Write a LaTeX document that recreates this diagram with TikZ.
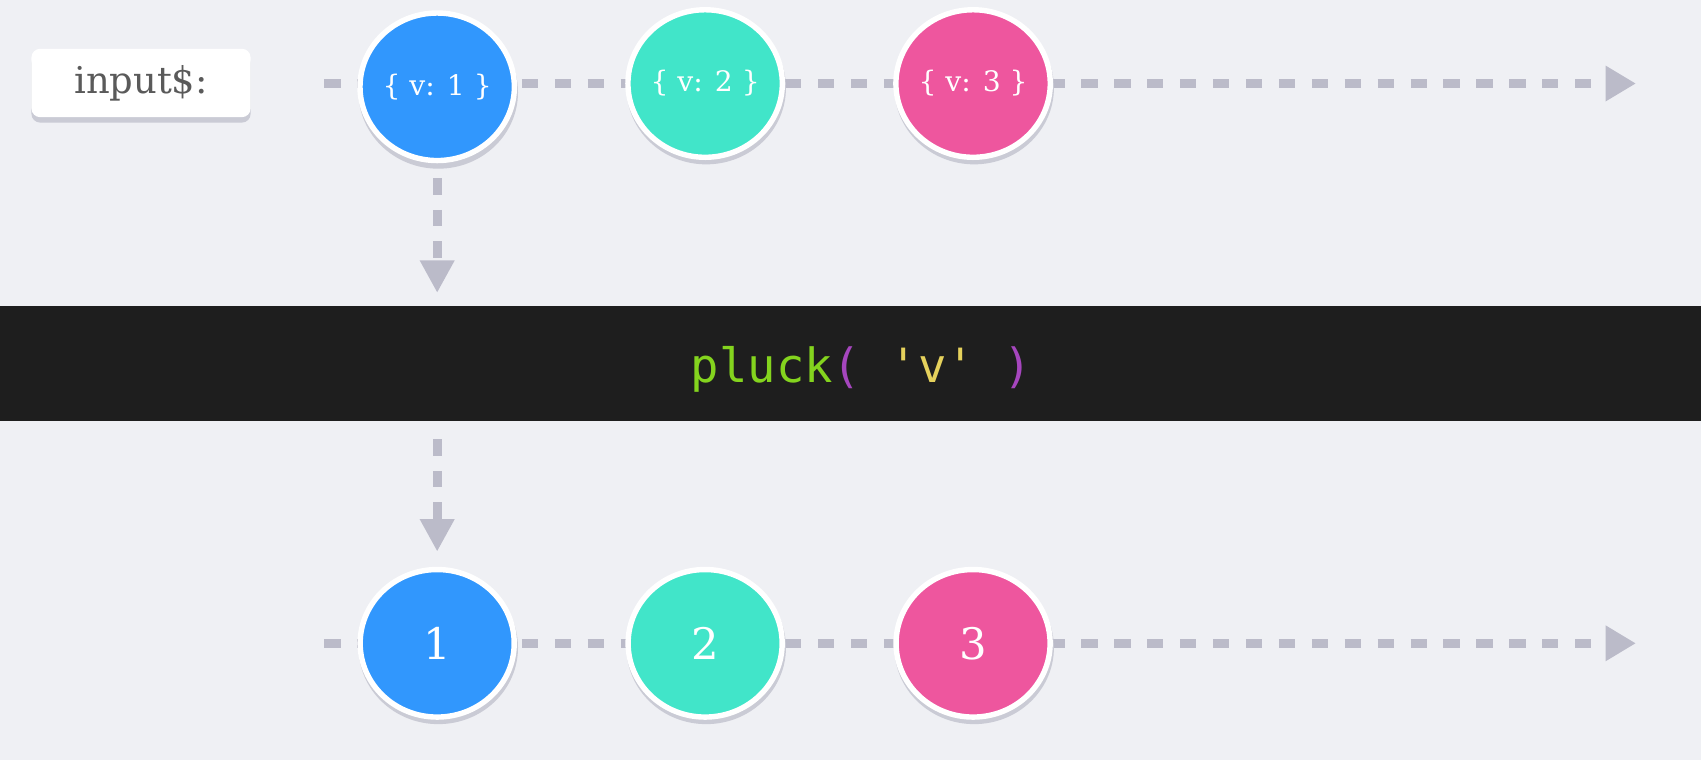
\documentclass[tikz,border=0pt]{standalone}
\usepackage{fontspec}
\setmainfont{DejaVu Serif}
\setmonofont{DejaVu Sans Mono}
\usetikzlibrary{shapes.geometric,arrows.meta}
\definecolor{bg}{HTML}{EFF0F4}
\definecolor{linec}{HTML}{BBBBC9}
\definecolor{shadowc}{HTML}{CACBD5}
\definecolor{mblue}{HTML}{3197FD}
\definecolor{mteal}{HTML}{41E5C9}
\definecolor{mpink}{HTML}{EE569E}
\definecolor{band}{HTML}{1E1E1E}
\definecolor{cgreen}{HTML}{84D41E}
\definecolor{cpurple}{HTML}{A646BE}
\definecolor{cyellow}{HTML}{E5D15C}
\definecolor{labeltext}{HTML}{5A5A5A}
\begin{document}
\begin{tikzpicture}[x=1pt,y=-1pt,
  marble/.style={ellipse, draw=white, line width=5pt, minimum width=142pt,
    minimum height=136pt, inner sep=0pt, text=white},
  objtext/.style={font=\fontsize{26}{30}\selectfont},
  numtext/.style={font=\fontsize{40}{48}\selectfont},
  timeline/.style={draw=linec, line width=8pt, dash pattern=on 15pt off 15.34pt,
    -{Triangle[length=28pt,width=31pt]}},
  flow/.style={draw=linec, line width=8pt, dash pattern=on 15pt off 14pt,
    -{Triangle[length=30pt,width=30pt]}},
  mshadow/.style={fill=shadowc},
]
% fixed frame, then background
\useasboundingbox (0,0) rectangle (1568,700);
\fill[bg] (-6,-6) rectangle (1574,706);

% timelines (behind marbles)
\coordinate (s1) at (299,77);
\coordinate (e1) at (1508,77);
\coordinate (s2) at (299,593);
\coordinate (e2) at (1508,593);
\draw[timeline] (s1) -- (e1);
\draw[timeline] (s2) -- (e2);

% label box
\fill[shadowc, rounded corners=8pt] (29,50) rectangle (231,113);
\node[fill=white, rounded corners=8pt, minimum width=202pt, minimum height=63pt,
  inner sep=0pt, text=labeltext, font=\fontsize{34}{40}\selectfont]
  (lbl) at (130,76.5) {input\$:};

% marble shadows
\fill[mshadow] (404,85) ellipse [x radius=73.5, y radius=70.5];
\fill[mshadow] (651,81) ellipse [x radius=73.5, y radius=70.5];
\fill[mshadow] (898,81) ellipse [x radius=73.5, y radius=70.5];
\fill[mshadow] (404,597) ellipse [x radius=73.5, y radius=70.5];
\fill[mshadow] (651,597) ellipse [x radius=73.5, y radius=70.5];
\fill[mshadow] (898,597) ellipse [x radius=73.5, y radius=70.5];

% input marbles
\node[marble, fill=mblue, objtext] (t1) at (403,80) {\{ v: 1 \}};
\node[marble, fill=mteal, objtext] (t2) at (650,77) {\{ v: 2 \}};
\node[marble, fill=mpink, objtext] (t3) at (897,77) {\{ v: 3 \}};

% operator band
\node[fill=band, minimum width=1580pt, minimum height=106pt, inner sep=0pt,
  outer sep=0pt, anchor=north west] (op) at (-6,282) {};
\node[anchor=base, inner sep=0pt, font=\ttfamily\fontsize{43.5}{50}\selectfont]
  (code) at (794,353)
  {\textcolor{cgreen}{pluck}\textcolor{cpurple}{(}\textcolor{cyellow}{~'v'~}\textcolor{cpurple}{)}};

% output marbles
\node[marble, fill=mblue, numtext] (b1) at (403,593) {1};
\node[marble, fill=mteal, numtext] (b2) at (650,593) {2};
\node[marble, fill=mpink, numtext] (b3) at (897,593) {3};

% vertical flows
\draw[flow, shorten <=14pt, shorten >=12pt] (t1.south) -- (t1.south |- op.north);
\draw[flow, shorten <=17pt, shorten >=14pt] (op.south -| b1) -- (b1.north);
\end{tikzpicture}
\end{document}
